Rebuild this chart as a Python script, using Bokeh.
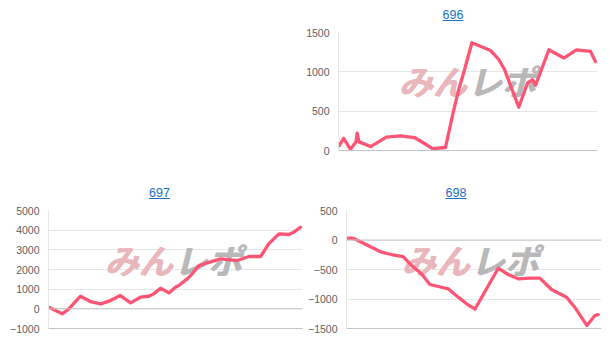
from bokeh.plotting import figure
from bokeh.layouts import column, row
from bokeh.models import Spacer, Label, Span, FixedTicker, Div
from bokeh.embed import file_html
from bokeh.resources import INLINE

# ---- data (x = position along the time axis, 0..100) ----
x696 = [0.2, 2.0, 4.6, 6.8, 7.2, 7.9, 12.4, 18.5, 23.9, 29.3, 32.4, 36.3, 41.3,
        44.4, 46.3, 48.6, 51.5, 58.7, 61.8, 64.1, 69.6, 73.0, 74.9, 76.1, 81.2,
        87.0, 91.9, 97.3, 99.2]
y696 = [60, 155, 15, 110, 220, 110, 50, 170, 185, 165, 105, 25, 38,
        500, 760, 1020, 1370, 1270, 1160, 1030, 550, 860, 900, 830, 1280,
        1175, 1280, 1260, 1130]

x697 = [0.1, 5.4, 8.0, 12.6, 16.5, 20.5, 24.4, 28.3, 32.3, 36.2, 39.5, 41.4,
        44.1, 47.4, 50.0, 51.3, 54.6, 56.6, 59.2, 62.5, 67.7, 74.3, 78.9, 83.5,
        86.7, 90.7, 94.6, 96.6, 99.2]
y697 = [80, -255, 0, 640, 370, 254, 420, 676, 305, 590, 640, 760,
        1050, 810, 1100, 1185, 1525, 1780, 2200, 2340, 2540, 2455, 2660, 2660,
        3300, 3810, 3780, 3900, 4150]

x698 = [0.0, 2.6, 5.9, 9.8, 13.7, 17.6, 22.2, 25.5, 29.4, 32.7, 36.0, 39.9,
        43.8, 47.1, 50.4, 59.5, 63.4, 67.3, 71.9, 75.8, 80.4, 86.3, 89.5, 94.3,
        97.4, 98.7]
y698 = [30, 30, -37, -122, -207, -246, -280, -432, -573, -754, -788, -827,
        -969, -1081, -1170, -478, -585, -658, -647, -647, -839, -969, -1139, -1450,
        -1280, -1265]

titles = ["696", "697", "698"]
ticks696 = [0, 500, 1000, 1500]
ticks697 = [-1000, 0, 1000, 2000, 3000, 4000, 5000]
ticks698 = [-1500, -1000, -500, 0, 500]

LINE = "#fe5575"
GRID = "#e6e6e6"
DARK = "#c4c4c4"
LABEL = "#606060"
LINK = "#1a6fc9"
FONT = "Liberation Sans"


def make_title(text, width, height, center, pad_top):
    html = (f'<div style="width:{2 * center}px;text-align:center;padding-top:{pad_top}px;'
            f'font-family:\'{FONT}\';font-size:12.5px;line-height:normal;">'
            f'<a style="color:{LINK};text-decoration:underline;">{text}</a></div>')
    return Div(text=html, width=width, height=height, margin=(0, 0, 0, 0))


def make_chart(xs, ys, ticks, fw, fh, bl, br, bt, bb, wm_cx, wm_cy):
    p = figure(frame_width=fw, frame_height=fh, min_border_left=bl, min_border_right=br,
               min_border_top=bt, min_border_bottom=bb, output_backend="svg",
               toolbar_location=None, x_range=(0, 100), y_range=(ticks[0], ticks[-1]))
    p.outline_line_color = None
    p.background_fill_color = "white"
    p.border_fill_color = "white"
    p.xgrid.grid_line_color = None
    p.ygrid.grid_line_color = GRID
    p.ygrid.grid_line_width = 1
    p.yaxis.ticker = FixedTicker(ticks=ticks)
    p.yaxis.major_tick_out = 0
    p.yaxis.major_tick_in = 0
    p.yaxis.minor_tick_line_color = None
    p.yaxis.axis_line_color = GRID
    p.yaxis.major_label_standoff = 9
    p.yaxis.major_label_text_font = FONT
    p.yaxis.major_label_text_font_size = "10.5px"
    p.yaxis.major_label_text_color = LABEL
    p.xaxis.ticker = FixedTicker(ticks=[])
    p.xaxis.major_tick_out = 0
    p.xaxis.major_tick_in = 0
    p.xaxis.minor_tick_line_color = None
    p.xaxis.axis_line_color = DARK

    if ticks[0] < 0:
        p.add_layout(Span(location=0, dimension="width", line_color=DARK, line_width=1))

    # watermark (drawn twice, 1px apart, for a heavier look)
    for dx in (0, 1):
        p.add_layout(Label(x=wm_cx + dx, y=wm_cy, x_units="canvas", y_units="canvas",
                           text="みん", text_align="right", text_baseline="middle",
                           text_font="Noto Sans CJK JP", text_font_size="34px",
                           text_font_style="bold italic", text_color="#e9b7bb",
                           level="underlay"))
        p.add_layout(Label(x=wm_cx + 1 + dx, y=wm_cy, x_units="canvas", y_units="canvas",
                           text="レポ", text_align="left", text_baseline="middle",
                           text_font="Noto Sans CJK JP", text_font_size="34px",
                           text_font_style="bold italic", text_color="#b8b8b8",
                           level="underlay"))

    p.line(xs, ys, line_color=LINE, line_width=3.3, line_join="round", line_cap="round")
    return p


t696 = make_title(titles[0], 310, 22, 153, 7.5)
p696 = make_chart(x696, y696, ticks696, 259, 118, 38, 13, 10, 25, 166, 58)
t697 = make_title(titles[1], 305, 24, 159.5, 11)
p697 = make_chart(x697, y697, ticks697, 254, 118, 48, 3, 11, 23, 172, 60)
t698 = make_title(titles[2], 305, 24, 151, 11)
p698 = make_chart(x698, y698, ticks698, 255, 118, 40, 10, 11, 23, 164, 60)

layout = column(
    row(Spacer(width=300, height=175, margin=(0, 0, 0, 0)),
        column(t696, p696, spacing=0), spacing=0),
    row(column(t697, p697, spacing=0), column(t698, p698, spacing=0), spacing=0),
    spacing=0)

open("out.html", "w").write(file_html(layout, INLINE))
